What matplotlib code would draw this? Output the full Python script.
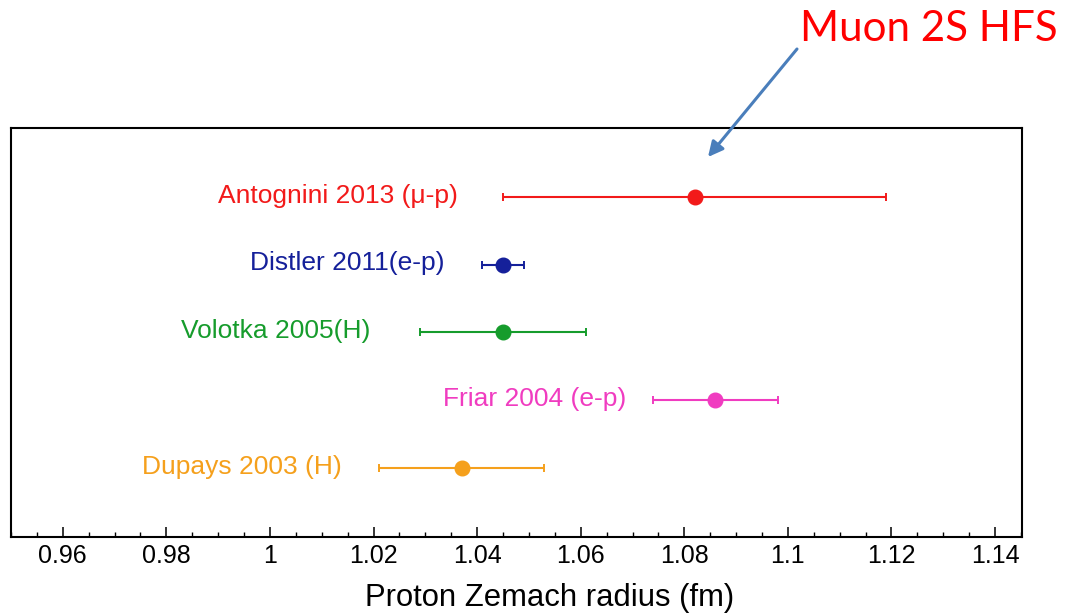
import matplotlib
matplotlib.use("Agg")
import matplotlib.pyplot as plt
from matplotlib.ticker import MultipleLocator, FuncFormatter

# Proton Zemach radius determinations (fm)
labels = ["Antognini 2013 (\u03bc-p)", "Distler 2011(e-p)", "Volotka 2005(H)",
          "Friar 2004 (e-p)", "Dupays 2003 (H)"]
radius = [1.082, 1.045, 1.045, 1.086, 1.037]
uncert = [0.037, 0.004, 0.016, 0.012, 0.016]
colors = ["#f21a1a", "#15209a", "#169c2c", "#f03cc0", "#f5a01c"]

# gap between each label's right edge and its error bar (pixels)
label_gap_px = [45, 38, 50, 27, 37]

DPI = 100
fig = plt.figure(figsize=(10.72, 6.15), dpi=DPI)
ax = fig.add_axes([11 / 1072, 78 / 615, 1011 / 1072, 409 / 615])

n = len(labels)
rows = list(range(n - 1, -1, -1))
for lab, r, e, c, y, gap in zip(labels, radius, uncert, colors, rows, label_gap_px):
    ax.errorbar(r, y, xerr=e, fmt="o", color=c, ecolor=c, markersize=10.5,
                elinewidth=1.5, capsize=2.7, capthick=1.4)
    ax.annotate(lab, xy=(r - e, y), xytext=(-gap * 72 / DPI, 1),
                textcoords="offset points", ha="right", va="center",
                color=c, fontsize=19, family="Liberation Sans")

ax.set_xlim(0.95, 1.1452)
ax.set_ylim(-1.02, 5.02)
ax.set_yticks([])
ax.xaxis.set_major_locator(MultipleLocator(0.02))
ax.xaxis.set_minor_locator(MultipleLocator(0.005))
ax.xaxis.set_major_formatter(FuncFormatter(lambda v, p: f"{v:.2f}".rstrip("0").rstrip(".")))
ax.tick_params(axis="x", which="both", direction="in", top=False)
ax.tick_params(axis="x", which="major", length=7, width=1.1, pad=5,
               labelsize=18)
ax.tick_params(axis="x", which="minor", length=3.5, width=1.0)
for lbl in ax.get_xticklabels():
    lbl.set_family("Liberation Sans")
for s in ax.spines.values():
    s.set_linewidth(1.5)

ax.set_xlabel("Proton Zemach radius (fm)", fontsize=22.3, family="Liberation Sans")
ax.xaxis.set_label_coords(0.533, -0.112)

# callout above the plot
fig.text(800 / 1072, 1 - 41 / 615, "Muon 2S HFS", color="#ff0000",
         fontsize=30.3, family="Lato", ha="left", va="baseline")
ax.annotate("", xy=(708, 615 - 157), xycoords="figure pixels",
            xytext=(797, 615 - 49), textcoords="figure pixels",
            arrowprops=dict(arrowstyle="-|>,head_length=0.9,head_width=0.45",
                            color="#4a7ebb", lw=2.2, shrinkA=0, shrinkB=0),
            annotation_clip=False)

fig.savefig("out.png", dpi=DPI)
